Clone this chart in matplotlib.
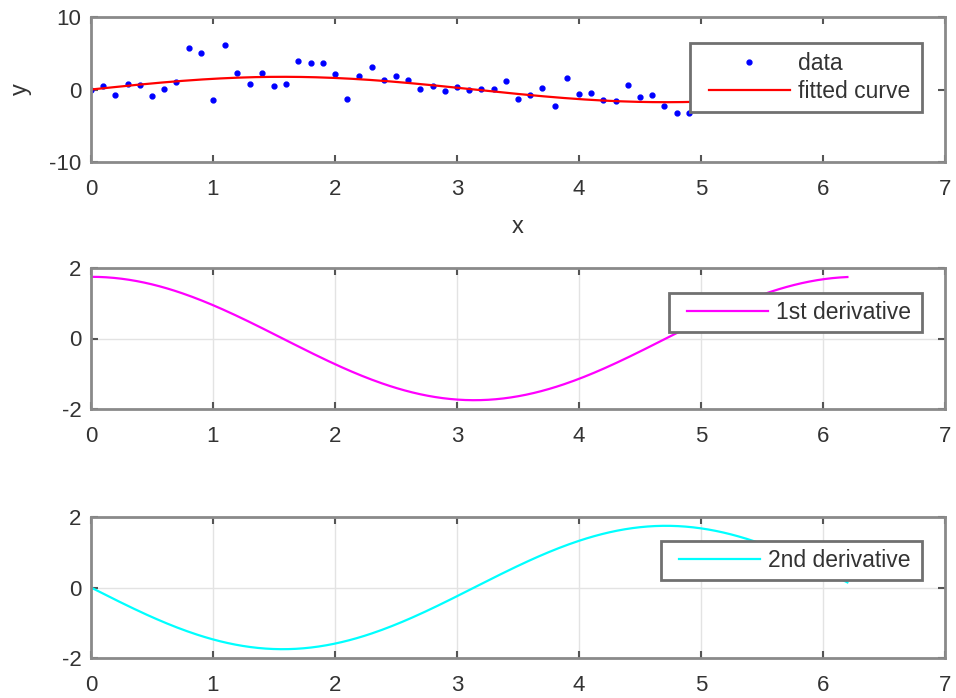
import numpy as np
import matplotlib
matplotlib.use("Agg")
import matplotlib.pyplot as plt
from matplotlib.lines import Line2D
from matplotlib.legend_handler import HandlerLine2D
from matplotlib.path import Path

plt.rcParams["font.family"] = ["Liberation Sans", "DejaVu Sans"]
plt.rcParams["axes.unicode_minus"] = False

# noisy samples, x = 0:0.1:6.2 (points past 4.9 sit behind the legend, estimated)
x_data = np.round(np.arange(0, 6.25, 0.1), 1)
y_data = [-0.07, 0.5, -0.76, 0.8, 0.62, -0.85, 0.03, 1.03, 5.77, 5.03,
          -1.45, 6.18, 2.23, 0.76, 2.32, 0.53, 0.76, 3.89, 3.66, 3.61,
          2.09, -1.26, 1.91, 3.15, 1.36, 1.8, 1.26, 0.11, 0.53, -0.2,
          0.39, -0.12, 0.11, 0.11, 1.17, -1.36, -0.76, 0.2, -2.32, 1.63,
          -0.67, -0.44, -1.45, -1.54, 0.62, -0.99, -0.71, -2.28, -3.2, -3.2,
          -1.5, -2.1, -0.9, -1.6, -1.2, -0.4, -1.0, -0.3, -0.6, 0.2,
          -0.5, 0.1, -0.2]

# sine fit: y = A*sin(x)
fit_amp = 1.75
x_fit = np.linspace(0, 6.2, 300)
y_fit = fit_amp * np.sin(x_fit)
d1 = fit_amp * np.cos(x_fit)
d2 = -fit_amp * np.sin(x_fit)

AX_GRAY = "#8a8a8a"
TXT = "#333333"
LEG_FS = 16.5

fig = plt.figure(figsize=(9.56, 6.98), dpi=100)
W, H = 956, 698


def make_ax(top_px, bot_px):
    ax = fig.add_axes([91 / W, 1 - bot_px / H, (945 - 91) / W, (bot_px - top_px) / H])
    for s in ax.spines.values():
        s.set_color(AX_GRAY)
        s.set_linewidth(2)
    ax.tick_params(direction="in", top=True, right=True, length=5, width=1.5,
                   color="#555555", labelsize=16, labelcolor=TXT)
    ax.tick_params(axis="x", pad=12)
    ax.tick_params(axis="y", pad=7)
    ax.set_xlim(0, 7)
    ax.set_xticks(range(0, 8))
    return ax


def wide_square(x0, y0, width, height, mutation_size):
    # square frame, a little wider than the content on both sides
    left, right = 0.17 * mutation_size, 0.13 * mutation_size
    xa, xb = x0 - left, x0 + width + right
    ya, yb = y0, y0 + height
    return Path([(xa, ya), (xb, ya), (xb, yb), (xa, yb), (xa, ya)], closed=True)


def add_legend(ax, top_frac, **kw):
    # extra left padding before the handle line, like the reference boxes
    hmap = {Line2D: HandlerLine2D(xpad=0.26)}
    leg = ax.legend(loc="upper right", bbox_to_anchor=(0.9695, top_frac), fontsize=LEG_FS,
                    fancybox=False, framealpha=1, handlelength=3.8, handletextpad=0.35,
                    borderaxespad=0, handler_map=hmap, **kw)
    fr = leg.get_frame()
    fr.set_boxstyle(wide_square)
    fr.set_edgecolor("#707070")
    fr.set_linewidth(2)
    for t in leg.get_texts():
        t.set_color(TXT)
    return leg


# top: data + fit
ax1 = make_ax(17, 162)
ax1.plot(x_data, y_data, ".", color="blue", markersize=7, label="data")
ax1.plot(x_fit, y_fit, "-", color="red", lw=1.6, label="fitted curve")
ax1.set_ylim(-10, 10)
ax1.set_yticks([-10, 0, 10])
ax1.set_xlabel("x", fontsize=17, color=TXT, labelpad=12)
ax1.set_ylabel("y", fontsize=17, color=TXT, labelpad=12)
add_legend(ax1, 0.819, borderpad=0.39, labelspacing=0.2)

# middle: first derivative
ax2 = make_ax(268, 409)
ax2.plot(x_fit, d1, color="magenta", lw=1.6, label="1st derivative")
ax2.set_ylim(-2, 2)
ax2.set_yticks([-2, 0, 2])
ax2.grid(True, color="#e3e3e3", lw=1)
ax2.set_axisbelow(True)
add_legend(ax2, 0.825, borderpad=0.35)

# bottom: second derivative
ax3 = make_ax(517, 658)
ax3.plot(x_fit, d2, color="cyan", lw=1.6, label="2nd derivative")
ax3.set_ylim(-2, 2)
ax3.set_yticks([-2, 0, 2])
ax3.grid(True, color="#e3e3e3", lw=1)
ax3.set_axisbelow(True)
add_legend(ax3, 0.832, borderpad=0.35)

fig.savefig("out.png", dpi=100)
